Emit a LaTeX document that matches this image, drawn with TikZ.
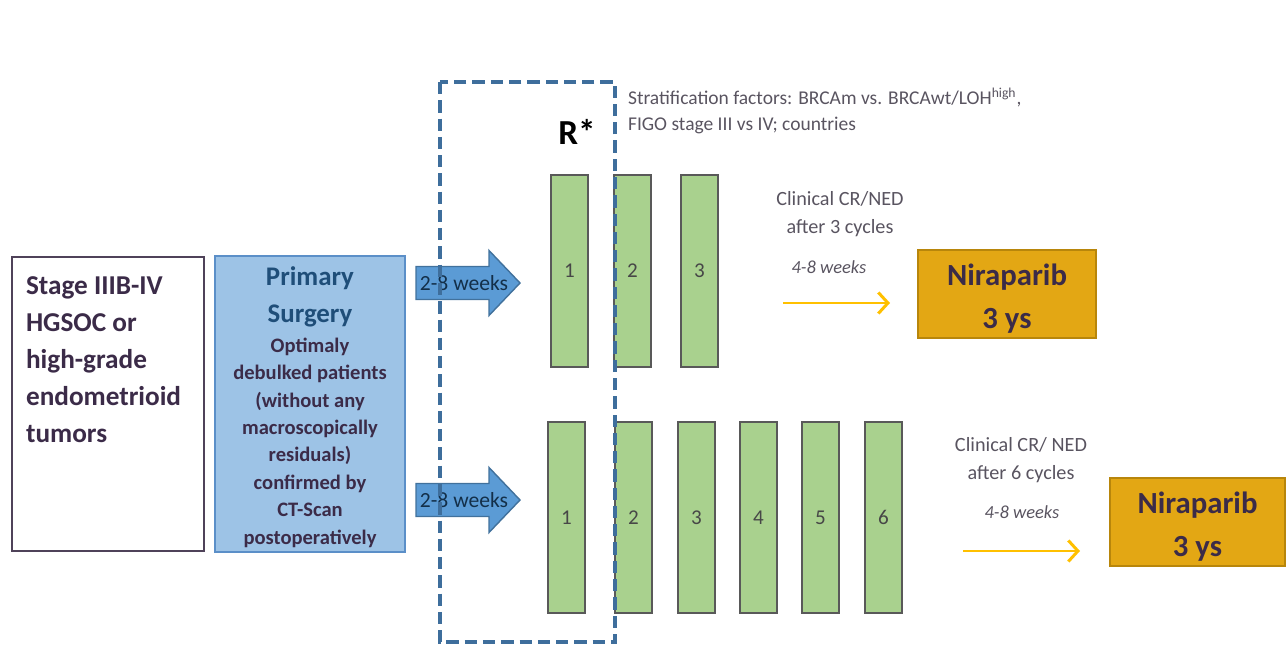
\documentclass[tikz,border=0pt]{standalone}
\usepackage{fontspec}
\setmainfont{Carlito}
\usetikzlibrary{arrows.meta}
\definecolor{textpurple}{HTML}{3B2B48}
\definecolor{framepurple}{HTML}{4F4259}
\definecolor{surgfill}{HTML}{9DC3E6}
\definecolor{surgline}{HTML}{5B8FC8}
\definecolor{surgtitle}{HTML}{1F4E79}
\definecolor{weekfill}{HTML}{5B9BD5}
\definecolor{weekline}{HTML}{41719C}
\definecolor{randline}{HTML}{3E6E9C}
\definecolor{barfill}{HTML}{A9D18E}
\definecolor{barline}{HTML}{595959}
\definecolor{notegray}{HTML}{595460}
\definecolor{gonext}{HTML}{FFC000}
\definecolor{nirafill}{HTML}{E3A714}
\definecolor{niraline}{HTML}{B8860B}

\begin{document}
\begin{tikzpicture}[x=0.02cm,y=-0.02cm,line width=1.2pt,
  cyclebar/.style={draw=barline,fill=barfill,minimum width=0.74cm,inner sep=0pt,
    font=\fontsize{12}{13}\selectfont,text=barline!80!black},
  weekarrow/.style={draw=weekline,fill=weekfill,line width=0.8pt},
  note/.style={align=center,text=notegray,font=\fontsize{11.5}{16}\selectfont},
  weeknote/.style={text=notegray,font=\itshape\fontsize{10.5}{12}\selectfont},
  gonextarrow/.style={draw=gonext,line width=1.7pt,-{Straight Barb[length=5.5pt,width=12pt]}},
  nirabox/.style={draw=niraline,fill=nirafill,line width=1.2pt,minimum width=3.56cm,
    minimum height=1.76cm},
  niratext/.style={align=center,text=textpurple,inner sep=0pt,
    font=\bfseries\fontsize{17.5}{24.5}\selectfont}]
  \useasboundingbox (0,0) rectangle (1286,646);
  % eligible patients
  \node[draw=framepurple,fill=white,line width=1.3pt,minimum width=3.84cm,minimum height=5.88cm] (stage) at (108,404) {};
  \node[anchor=north west,inner sep=0pt,align=left,text=textpurple,font=\bfseries\fontsize{15.5}{21}\selectfont]
    (stagetext) at (25,276) {Stage IIIB-IV\\HGSOC or\\high-grade\\endometrioid\\tumors};
  % surgery
  \node[draw=surgline,fill=surgfill,line width=1pt,minimum width=3.8cm,minimum height=5.92cm] (surgery) at (310,404) {};
  \node[align=center,text=textpurple,font=\bfseries\fontsize{11.7}{15.6}\selectfont] (surgtext) at (310,407)
    {{\color{surgtitle}\fontsize{15.3}{21}\selectfont Primary}\\[5.4pt]
     {\color{surgtitle}\fontsize{15.3}{21}\selectfont Surgery}\\[1.4pt]
     Optimaly\\debulked patients\\(without any\\macroscopically\\residuals)\\confirmed by\\CT-Scan\\postoperatively};
  % 2-8 weeks arrows
  \foreach \y/\n in {283/A,500/B} {
    \draw[weekarrow] (416,\y-16.5) -- (489,\y-16.5) -- (489,\y-32.5) -- (520,\y)
      -- (489,\y+32.5) -- (489,\y+16.5) -- (416,\y+16.5) -- cycle;
    \node[text=surgtitle!60!black,font=\fontsize{12.3}{14}\selectfont,inner sep=0pt] (week\n) at (464,\y) {2-8 weeks};
  }
  % cycles, arm with 3
  \foreach \i/\x in {1/569.5,2/632.5,3/699.5}
    \node[cyclebar,minimum height=3.84cm] (a\i) at (\x,271) {\i};
  % cycles, arm with 6
  \foreach \i/\x in {1/566.5,2/633.5,3/696.5,4/758.5,5/820.5,6/883.5}
    \node[cyclebar,minimum height=3.82cm] (b\i) at (\x,517.5) {\i};
  % randomisation
  \draw[randline,line width=1.8pt,dash pattern=on 7pt off 3.4pt] (440,82) rectangle (615,642);
  \node[font=\bfseries\fontsize{20}{24}\selectfont] (rand) at (577,132) {R*};
  \node[anchor=north west,inner sep=0pt,align=left,text=notegray,font=\fontsize{11.1}{14.7}\selectfont]
    (strat) at (627,87) {Stratification factors: BRCAm vs. BRCAwt/LOH\textsuperscript{high},\\FIGO stage III vs IV; countries};
  % maintenance, top arm
  \node[note] (crA) at (840,214) {Clinical CR/NED\\after 3 cycles};
  \node[weeknote] (wkA) at (829,267) {4-8 weeks};
  \coordinate (ga1) at (783,303);
  \coordinate (ga2) at (890,303);
  \draw[gonextarrow] (ga1) -- (ga2);
  \node[nirabox] (niraA) at (1007,294) {};
  \node[niratext] (niraAtext) at (1007,299) {Niraparib\\3 ys};
  % maintenance, bottom arm
  \node[note] (crB) at (1021,460) {Clinical CR/ NED\\after 6 cycles};
  \node[weeknote] (wkB) at (1022,512) {4-8 weeks};
  \coordinate (gb1) at (963,551);
  \coordinate (gb2) at (1080,551);
  \draw[gonextarrow] (gb1) -- (gb2);
  \node[nirabox,minimum width=3.5cm] (niraB) at (1197.5,522) {};
  \node[niratext] (niraBtext) at (1197.5,527) {Niraparib\\3 ys};
\end{tikzpicture}
\end{document}
